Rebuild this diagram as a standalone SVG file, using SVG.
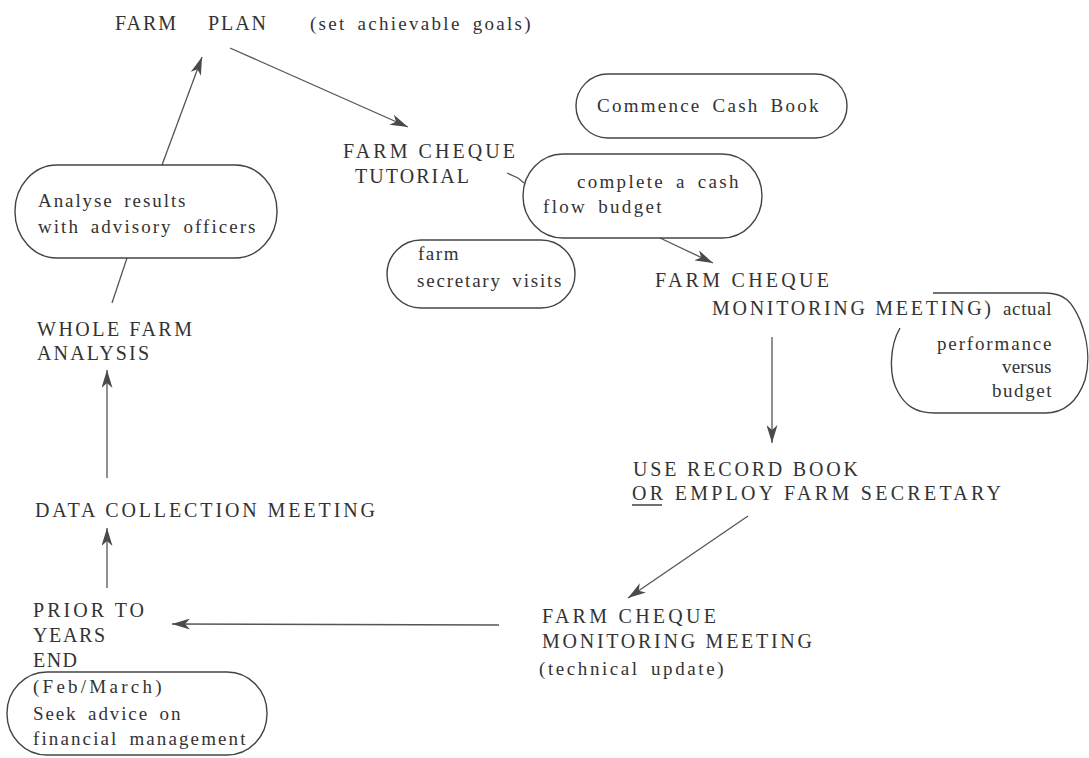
<svg xmlns="http://www.w3.org/2000/svg" width="1089" height="758" viewBox="0 0 1089 758">
<style>
text{font-family:"Liberation Serif","Times New Roman",serif;fill:#333}
.cap{font-size:20px;letter-spacing:3px}
.low{font-size:19px;letter-spacing:1.5px;word-spacing:4px}
.box{fill:none;stroke:#444;stroke-width:1.4}
.con{fill:none;stroke:#555;stroke-width:1.3}
</style>
<defs>
<marker id="ah" viewBox="0 0 18 11" refX="18" refY="5.5" markerWidth="18" markerHeight="11" markerUnits="userSpaceOnUse" orient="auto">
<path d="M0,0 L18,5.5 L0,11 L5,5.5 z" fill="#4a4a4a"/>
</marker>
</defs>
<rect width="1089" height="758" fill="#fff"/>

<g id="connectors">
<line class="con" x1="162" y1="165" x2="202" y2="57" marker-end="url(#ah)"/>
<line class="con" x1="230" y1="48" x2="408" y2="127" marker-end="url(#ah)"/>
<path class="con" d="M507,173 L518,178 L524,183"/>
<line class="con" x1="660" y1="238" x2="713" y2="263" marker-end="url(#ah)"/>
<line class="con" x1="772" y1="337" x2="772" y2="443" marker-end="url(#ah)"/>
<line class="con" x1="748" y1="516" x2="628" y2="598" marker-end="url(#ah)"/>
<line class="con" x1="499" y1="625" x2="172" y2="624" marker-end="url(#ah)"/>
<line class="con" x1="107" y1="588" x2="107" y2="528" marker-end="url(#ah)"/>
<line class="con" x1="107" y1="478" x2="107" y2="370" marker-end="url(#ah)"/>
<line class="con" x1="112" y1="303" x2="127" y2="258"/>
</g>

<g id="farm-plan">
<text class="cap" x="115" y="30" textLength="64" lengthAdjust="spacing">FARM</text>
<text class="cap" x="208" y="30" textLength="61" lengthAdjust="spacing">PLAN</text>
<text class="low" x="310" y="30" textLength="222" lengthAdjust="spacing">(set achievable goals)</text>
</g>

<g id="analyse">
<rect class="box" x="15" y="165" width="262" height="93" rx="42" ry="46"/>
<text class="low" x="38" y="207" textLength="149" lengthAdjust="spacing">Analyse results</text>
<text class="low" x="38" y="233" textLength="219" lengthAdjust="spacing">with advisory officers</text>
</g>

<g id="tutorial">
<text class="cap" x="343" y="158" textLength="175" lengthAdjust="spacing">FARM CHEQUE</text>
<text class="cap" x="355" y="183" textLength="117" lengthAdjust="spacing">TUTORIAL</text>
</g>

<g id="commence">
<rect class="box" x="576" y="74" width="271" height="64" rx="32" ry="32"/>
<text class="low" x="597" y="112" textLength="223" lengthAdjust="spacing">Commence Cash Book</text>
</g>

<g id="cashflow">
<rect class="box" x="523" y="154" width="239" height="84" rx="40" ry="42"/>
<text class="low" x="577" y="188" textLength="163" lengthAdjust="spacing">complete a cash</text>
<text class="low" x="543" y="213" textLength="120" lengthAdjust="spacing">flow budget</text>
</g>

<g id="secretary-visits">
<rect class="box" x="387" y="240" width="188" height="68" rx="34" ry="34"/>
<text class="low" x="418" y="260" textLength="42" lengthAdjust="spacing">farm</text>
<text class="low" x="417" y="287" textLength="146" lengthAdjust="spacing">secretary visits</text>
</g>

<g id="monitoring1">
<text class="cap" x="655" y="287" textLength="177" lengthAdjust="spacing">FARM CHEQUE</text>
<text class="cap" x="712" y="315" textLength="282" lengthAdjust="spacing">MONITORING MEETING)</text>
<text class="low" x="1003" y="315" textLength="50" lengthAdjust="spacing">actual</text>
</g>

<g id="performance">
<path class="box" d="M900,328 C890,345 888,375 898,392 C905,405 915,413 935,413 L1045,413 C1065,413 1078,400 1085,380 C1090,362 1088,340 1080,320 C1072,302 1065,293 1045,293 L933,293"/>
<text class="low" x="937" y="350" textLength="116" lengthAdjust="spacing">performance</text>
<text class="low" x="1002" y="373" textLength="51" lengthAdjust="spacing">versus</text>
<text class="low" x="992" y="397" textLength="61" lengthAdjust="spacing">budget</text>
</g>

<g id="record-book">
<text class="cap" x="633" y="476" textLength="228" lengthAdjust="spacing">USE RECORD BOOK</text>
<text class="cap" x="632" y="500" textLength="372" lengthAdjust="spacing">OR EMPLOY FARM SECRETARY</text>
<line x1="632" y1="505" x2="662" y2="505" stroke="#333" stroke-width="1.4"/>
</g>

<g id="monitoring2">
<text class="cap" x="542" y="623" textLength="177" lengthAdjust="spacing">FARM CHEQUE</text>
<text class="cap" x="542" y="648" textLength="273" lengthAdjust="spacing">MONITORING MEETING</text>
<text class="low" x="539" y="675" textLength="186" lengthAdjust="spacing">(technical update)</text>
</g>

<g id="prior">
<text class="cap" x="33" y="617" textLength="114" lengthAdjust="spacing">PRIOR TO</text>
<text class="cap" x="33" y="642" textLength="75" lengthAdjust="spacing">YEARS</text>
<text class="cap" x="33" y="667" textLength="47" lengthAdjust="spacing">END</text>
</g>

<g id="advice">
<rect class="box" x="7" y="672" width="260" height="83" rx="40" ry="41"/>
<text class="low" x="33" y="693" textLength="130" lengthAdjust="spacing">(Feb/March)</text>
<text class="low" x="33" y="720" textLength="149" lengthAdjust="spacing">Seek advice on</text>
<text class="low" x="33" y="745" textLength="214" lengthAdjust="spacing">financial management</text>
</g>

<g id="data-collection">
<text class="cap" x="35" y="517" textLength="343" lengthAdjust="spacing">DATA COLLECTION MEETING</text>
</g>

<g id="whole-farm">
<text class="cap" x="37" y="336" textLength="158" lengthAdjust="spacing">WHOLE FARM</text>
<text class="cap" x="37" y="360" textLength="115" lengthAdjust="spacing">ANALYSIS</text>
</g>
</svg>
